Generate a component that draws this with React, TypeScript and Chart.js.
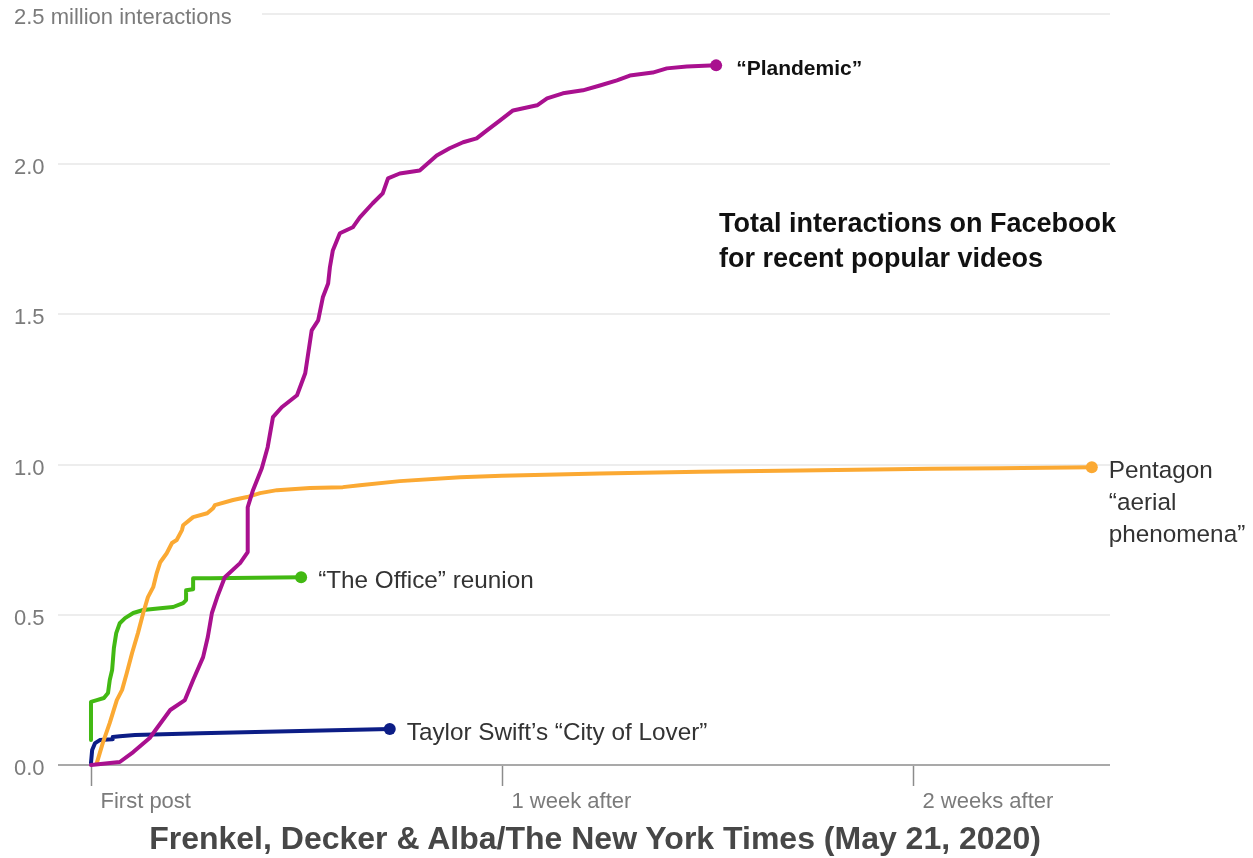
import React, { useEffect, useRef } from "react";
import { Chart, registerables } from "chart.js";

Chart.register(...registerables);

// ---- Data (x = days since first post, y = million interactions) ----
const plandemicDays = [0, 0.49, 0.72, 1.0, 1.35, 1.6, 1.74, 1.91, 1.99, 2.06, 2.15, 2.28, 2.54, 2.67, 2.67, 2.76, 2.91, 3.01, 3.1, 3.25, 3.51, 3.65, 3.76, 3.87, 3.95, 4.04, 4.07, 4.12, 4.24, 4.46, 4.58, 4.8, 4.97, 5.06, 5.26, 5.6, 5.89, 6.11, 6.34, 6.57, 6.74, 6.97, 7.19, 7.6, 7.77, 8.04, 8.38, 8.67, 8.96, 9.18, 9.57, 9.81, 10.15, 10.65];
const plandemicValues = [0, 0.01, 0.043, 0.09, 0.183, 0.216, 0.283, 0.359, 0.426, 0.506, 0.559, 0.625, 0.672, 0.709, 0.858, 0.915, 0.988, 1.058, 1.158, 1.191, 1.231, 1.304, 1.447, 1.48, 1.557, 1.603, 1.657, 1.713, 1.77, 1.79, 1.823, 1.87, 1.903, 1.953, 1.969, 1.979, 2.029, 2.053, 2.073, 2.086, 2.112, 2.146, 2.179, 2.196, 2.219, 2.236, 2.246, 2.262, 2.279, 2.295, 2.305, 2.319, 2.325, 2.329];

const pentagonDays = [0.1, 0.2, 0.32, 0.44, 0.53, 0.61, 0.7, 0.8, 0.89, 0.97, 1.06, 1.12, 1.18, 1.29, 1.38, 1.46, 1.55, 1.57, 1.74, 1.98, 2.08, 2.11, 2.42, 2.66, 2.88, 3.17, 3.73, 4.29, 4.58, 5.26, 6.29, 7.0, 8.67, 10.37, 12.08, 14.29, 15.48, 17.05];
const pentagonValues = [0.007, 0.073, 0.14, 0.216, 0.25, 0.306, 0.373, 0.439, 0.506, 0.559, 0.592, 0.639, 0.675, 0.705, 0.739, 0.749, 0.782, 0.798, 0.825, 0.838, 0.855, 0.865, 0.882, 0.892, 0.905, 0.915, 0.922, 0.925, 0.931, 0.945, 0.958, 0.963, 0.97, 0.976, 0.98, 0.986, 0.988, 0.991];

const officeDays = [0, 0, 0.1, 0.22, 0.29, 0.32, 0.36, 0.39, 0.43, 0.49, 0.58, 0.72, 0.89, 1.18, 1.4, 1.57, 1.62, 1.62, 1.74, 1.74, 2.03, 3.58];
const officeValues = [0.083, 0.21, 0.216, 0.223, 0.24, 0.283, 0.316, 0.389, 0.439, 0.472, 0.489, 0.506, 0.516, 0.522, 0.526, 0.539, 0.549, 0.582, 0.585, 0.622, 0.622, 0.625];

const taylorDays = [0, 0.02, 0.07, 0.15, 0.36, 0.37, 0.49, 0.75, 1.86, 3.56, 5.09];
const taylorValues = [0.007, 0.05, 0.073, 0.083, 0.086, 0.093, 0.096, 0.1, 0.106, 0.113, 0.12];

const seriesNames = ["Plandemic", "Pentagon", "Office", "Taylor"];
const seriesLabels: string[][] = [
  ["\u201cPlandemic\u201d"],
  ["Pentagon", "\u201caerial", "phenomena\u201d"],
  ["\u201cThe Office\u201d reunion"],
  ["Taylor Swift\u2019s \u201cCity of Lover\u201d"],
];
const seriesColors = ["#a9108f", "#fba933", "#42b913", "#0c1d86"];

const yTickValues = [0, 0.5, 1.0, 1.5, 2.0, 2.5];
const yTickLabels = ["0.0", "0.5", "1.0", "1.5", "2.0", "2.5 million interactions"];
const xTickValues = [0, 7, 14];
const xTickLabels = ["First post", "1 week after", "2 weeks after"];

const titleLines = ["Total interactions on Facebook", "for recent popular videos"];
const sourceText = "Frenkel, Decker & Alba/The New York Times (May 21, 2020)";

const FONT = '"Liberation Sans", Arial, sans-serif';

function toPoints(xs: number[], ys: number[]) {
  return xs.map((x, i) => ({ x, y: ys[i] }));
}

const annotPlugin = {
  id: "annot",
  beforeDatasetsDraw(chart: any) {
    const { ctx, scales } = chart;
    const x = scales.x;
    const y = scales.y;
    ctx.save();
    // clear gridline behind top label
    ctx.fillStyle = "#ffffff";
    ctx.fillRect(0, y.getPixelForValue(2.5) - 5, 262, 10);
    // y labels
    ctx.font = "22px " + FONT;
    ctx.fillStyle = "#7b7b7b";
    ctx.textAlign = "left";
    ctx.textBaseline = "middle";
    yTickValues.forEach((v, i) => {
      ctx.fillText(yTickLabels[i], 14, y.getPixelForValue(v) + 4);
    });
    // x tick marks and labels
    const y0 = y.getPixelForValue(0);
    ctx.strokeStyle = "#8c8c8c";
    ctx.lineWidth = 1.5;
    ctx.font = "22px " + FONT;
    ctx.fillStyle = "#7b7b7b";
    xTickValues.forEach((v, i) => {
      const px = Math.round(x.getPixelForValue(v)) + 0.5;
      ctx.beginPath();
      ctx.moveTo(px, y0 + 1);
      ctx.lineTo(px, y0 + 21);
      ctx.stroke();
      ctx.fillText(xTickLabels[i], px + 9, y0 + 37);
    });
    ctx.restore();
  },
  afterDatasetsDraw(chart: any) {
    const { ctx } = chart;
    ctx.save();
    ctx.textAlign = "left";
    ctx.textBaseline = "middle";
    chart.data.datasets.forEach((ds: any, i: number) => {
      const meta = chart.getDatasetMeta(i);
      const last = meta.data[meta.data.length - 1];
      const lines = seriesLabels[i];
      const isBold = i === 0;
      ctx.font = (isBold ? "bold 21px " : "24.3px ") + FONT;
      ctx.fillStyle = isBold ? "#111111" : "#333333";
      const dx = isBold ? 20 : 17;
      lines.forEach((t: string, k: number) => {
        ctx.fillText(t, last.x + dx, last.y + 4 + k * 32);
      });
    });
    ctx.restore();
  },
};

export default function App() {
  const canvasRef = useRef<HTMLCanvasElement | null>(null);

  useEffect(() => {
    document.body.style.margin = "0";
    const canvas = canvasRef.current;
    if (!canvas) return;
    const allDays = [plandemicDays, pentagonDays, officeDays, taylorDays];
    const allValues = [plandemicValues, pentagonValues, officeValues, taylorValues];
    const datasets = seriesNames.map((name, i) => {
      const n = allDays[i].length;
      return {
        label: name,
        data: toPoints(allDays[i], allValues[i]),
        borderColor: seriesColors[i],
        backgroundColor: seriesColors[i],
        borderWidth: 4,
        borderCapStyle: "round" as const,
        borderJoinStyle: "round" as const,
        pointRadius: (c: any) => (c.dataIndex === n - 1 ? 6 : 0),
        pointHoverRadius: 0,
        pointBorderWidth: 0,
        tension: 0,
        clip: false as any,
      };
    });
    const chart = new Chart(canvas, {
      type: "line",
      data: { datasets: datasets as any },
      options: {
        animation: false,
        responsive: false,
        devicePixelRatio: 1,
        layout: { padding: { left: 58, right: 143, top: 14, bottom: 93 } },
        plugins: { legend: { display: false }, tooltip: { enabled: false }, title: { display: false } },
        events: [],
        scales: {
          x: {
            type: "linear",
            min: -0.562,
            max: 17.36,
            display: false,
          },
          y: {
            type: "linear",
            min: 0,
            max: 2.5,
            border: { display: false },
            ticks: { display: false, stepSize: 0.5 },
            grid: {
              drawTicks: false,
              color: (c: any) => (c.tick && c.tick.value === 0 ? "#a9a9a9" : "#ededed"),
              lineWidth: 2,
            },
          },
        },
      },
      plugins: [annotPlugin],
    });
    return () => chart.destroy();
  }, []);

  return (
    <div style={{ position: "absolute", left: 0, top: 0, width: 1253, height: 858, background: "#fff", overflow: "hidden" }}>
      <canvas ref={canvasRef} width={1253} height={858} style={{ position: "absolute", left: 0, top: 0 }} />
      <div
        style={{
          position: "absolute",
          left: 719,
          top: 206,
          fontFamily: FONT,
          fontWeight: "bold",
          fontSize: 27,
          lineHeight: "35px",
          color: "#111",
          whiteSpace: "nowrap",
        }}
      >
        {titleLines.map((t) => (
          <div key={t}>{t}</div>
        ))}
      </div>
      <div
        style={{
          position: "absolute",
          left: 0,
          width: 1190,
          top: 821,
          textAlign: "center",
          fontFamily: FONT,
          fontWeight: "bold",
          fontSize: 32,
          lineHeight: "34px",
          color: "#474747",
          whiteSpace: "nowrap",
        }}
      >
        {sourceText}
      </div>
    </div>
  );
}
